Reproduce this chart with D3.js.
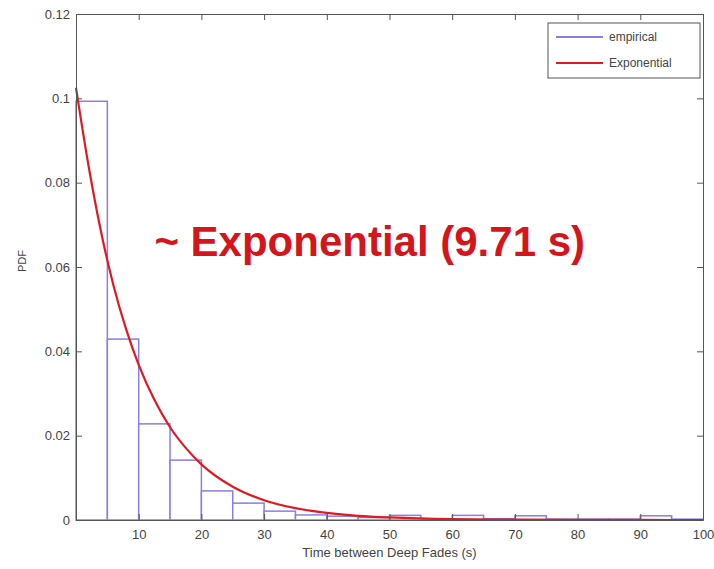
<!DOCTYPE html>
<html>
<head>
<meta charset="utf-8">
<script src="https://cdn.jsdelivr.net/npm/d3@7"></script>
<style>
  body { margin: 0; background: #fff; }
  svg { font-family: "Liberation Sans", Arial, sans-serif; }
  .axis path, .axis line { stroke: #555; }
  .axis text { fill: #444; font-size: 13px; }
</style>
</head>
<body>
<svg width="714" height="569"></svg>
<script>
// histogram bins (left edge, width 5 s) and their pdf heights
var binStarts = [0, 5, 10, 15, 20, 25, 30, 35, 40, 45, 50, 55, 60, 65, 70, 75, 80, 85, 90, 95];
var binPdf    = [0.0993, 0.0429, 0.0228, 0.0142, 0.0069, 0.0040, 0.0021, 0.0012, 0.0009, 0.0006,
                 0.0011, 0.0003, 0.0011, 0.0003, 0.0010, 0.0002, 0.0002, 0.0002, 0.0010, 0.0002];
var binWidth = 5;

// exponential fit
var fitX = [0, 2, 4, 6, 8, 10, 12.5, 15, 17.5, 20, 25, 30, 35, 40, 45, 50, 60, 70, 80, 90, 100];
var fitY = [0.1025, 0.0840, 0.0683, 0.0555, 0.0452, 0.0368, 0.0285, 0.0220, 0.0171, 0.0132, 0.0079,
            0.0047, 0.0028, 0.0017, 0.0010, 0.0006, 0.0002, 0.0001, 0.00003, 0.00001, 0];

var xTicks = [10, 20, 30, 40, 50, 60, 70, 80, 90, 100];
var yTicks = [0, 0.02, 0.04, 0.06, 0.08, 0.1, 0.12];
var legendLabels = ["empirical", "Exponential"];

var svg = d3.select("svg"),
    margin = {top: 14, right: 11, bottom: 49, left: 76},
    width  = +svg.attr("width") - margin.left - margin.right,
    height = +svg.attr("height") - margin.top - margin.bottom;

var x = d3.scaleLinear().domain([0, 100]).range([0, width]);
var y = d3.scaleLinear().domain([0, 0.12]).range([height, 0]);

var purple = "#8a7ee6",
    red    = "#e01a22";

var g = svg.append("g")
           .attr("transform", "translate(" + margin.left + "," + margin.top + ")");

// histogram bars
g.selectAll(".bar")
  .data(binStarts)
  .enter().append("rect")
  .attr("class", "bar")
  .attr("x", function(d) { return x(d); })
  .attr("y", function(d, i) { return y(binPdf[i]); })
  .attr("width", function(d) { return x(d + binWidth) - x(d); })
  .attr("height", function(d, i) { return y(0) - y(binPdf[i]); })
  .attr("fill", "#fff")
  .attr("stroke", purple)
  .attr("stroke-width", 1.5);

// fitted curve
var line = d3.line()
             .x(function(d, i) { return x(fitX[i]); })
             .y(function(d) { return y(d); })
             .curve(d3.curveMonotoneX);

g.append("path")
  .datum(fitY)
  .attr("d", line)
  .attr("fill", "none")
  .attr("stroke", red)
  .attr("stroke-width", 2.2)
  .attr("stroke-linejoin", "round");

// axes, matlab style: ticks inside on all four sides
var tick = 6;
g.append("g").attr("class", "axis")
  .attr("transform", "translate(0," + height + ")")
  .call(d3.axisBottom(x).tickValues(xTicks).tickSizeInner(-tick).tickSizeOuter(0).tickPadding(10));
g.append("g").attr("class", "axis")
  .call(d3.axisTop(x).tickValues(xTicks).tickSizeInner(-tick).tickSizeOuter(0).tickFormat(""));
g.append("g").attr("class", "axis")
  .call(d3.axisLeft(y).tickValues(yTicks).tickSizeInner(-tick).tickSizeOuter(0).tickPadding(6)
          .tickFormat(function(d) { return d3.format("")(+d.toFixed(2)); }));
g.append("g").attr("class", "axis")
  .attr("transform", "translate(" + width + ",0)")
  .call(d3.axisRight(y).tickValues(yTicks).tickSizeInner(-tick).tickSizeOuter(0).tickFormat(""));

g.selectAll(".axis text").attr("font-family", "Liberation Sans, Arial, sans-serif");

// axis labels
g.append("text")
  .attr("x", width / 2)
  .attr("y", height + 37)
  .attr("text-anchor", "middle")
  .attr("font-size", 13)
  .attr("fill", "#444")
  .text("Time between Deep Fades (s)");

g.append("text")
  .attr("transform", "translate(" + (-50) + "," + (height / 2 - 6) + ") rotate(-90)")
  .attr("text-anchor", "middle")
  .attr("font-size", 11)
  .attr("fill", "#444")
  .text("PDF");

// annotation
g.append("text")
  .attr("x", x(12.5))
  .attr("y", y(0.0627))
  .attr("font-size", 42)
  .attr("font-weight", "bold")
  .attr("fill", "#d4161c")
  .text("~ Exponential (9.71 s)");

// legend
var legend = g.append("g")
              .attr("transform", "translate(" + (width - 155) + ",9)");
legend.append("rect")
  .attr("width", 152)
  .attr("height", 55)
  .attr("fill", "#fff")
  .attr("stroke", "#555");
legend.selectAll(".lg")
  .data(legendLabels)
  .enter().append("line")
  .attr("x1", 8).attr("x2", 55)
  .attr("y1", function(d, i) { return 14 + i * 26; })
  .attr("y2", function(d, i) { return 14 + i * 26; })
  .attr("stroke", function(d, i) { return i === 0 ? purple : red; })
  .attr("stroke-width", 2);
legend.selectAll(".lt")
  .data(legendLabels)
  .enter().append("text")
  .attr("x", 61)
  .attr("y", function(d, i) { return 18 + i * 26; })
  .attr("font-size", 12)
  .attr("fill", "#444")
  .text(function(d) { return d; });
</script>
</body>
</html>
